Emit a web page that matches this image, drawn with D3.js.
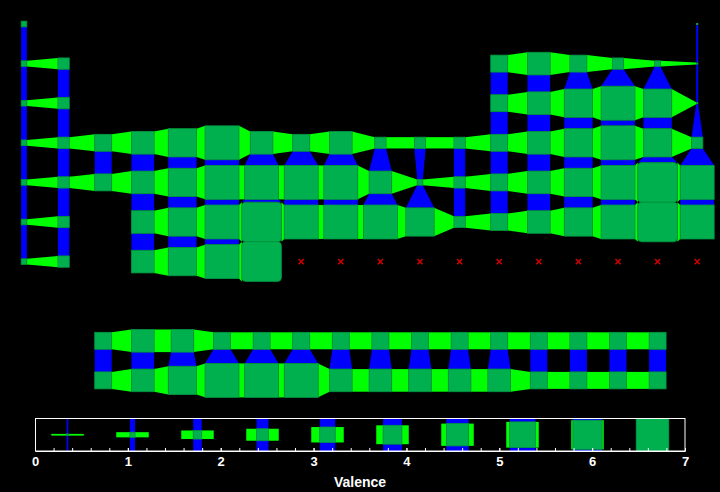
<!DOCTYPE html>
<html><head><meta charset="utf-8">
<script src="https://cdn.jsdelivr.net/npm/d3@7"></script>
<style>html,body{margin:0;padding:0;background:#000;} svg{display:block;}</style>
</head><body>
<svg id="chart" width="720" height="492"></svg>
<script>
const X = 'x';
const _ = null;
// Upper lattice: valence per cell (grid rows 0-6, columns 0-17); null = empty, 'x' = missing marker
const upperRows = [
  [1,_,_,_,_,_,_,_,_,_,_,_,_,_,_,_,_,0],
  [1,2,_,_,_,_,_,_,_,_,_,_,3,4,3,2,1,0],
  [1,2,_,_,_,_,_,_,_,_,_,_,3,4,5,6,5,0],
  [1,2,3,4,5,6,4,3,4,2,2,2,3,4,5,6,5,2],
  [1,2,3,4,5,6,6,6,6,4,1,2,3,4,5,6,7,6],
  [1,2,_,4,5,6,7,6,6,6,5,2,3,4,5,6,7,6],
  [1,2,_,4,5,6,7,X,X,X,X,X,X,X,X,X,X,X]
];
// Lower lattice (grid rows 8 and 9)
const lowerRowA = [_,_,3,4,4,3,3,3,3,3,3,3,3,3,3,3,3,_];
const lowerRowB = [_,_,3,4,5,6,6,6,4,4,4,4,4,3,3,3,3,_];
// Legend
const legendValences = [0.35,1.05,1.75,2.45,3.15,3.85,4.55,5.25,5.95,6.65];
const tickValues = [0,1,2,3,4,5,6,7];
const tickLabels = ['0','1','2','3','4','5','6','7'];
const axisTitle = 'Valence';

const COL_NODE = '#00b04f', COL_NODE_STROKE = '#00963f', COL_H = '#00ff00', COL_V = '#0000ff', COL_MISS = '#cc0000';

const svg = d3.select('#chart');
svg.append('rect').attr('width',720).attr('height',492).attr('fill','#000');

const grid = [];
upperRows.forEach((row, r) => { grid[r] = row; });
grid[7] = new Array(18).fill(null);
grid[8] = lowerRowA;
grid[9] = lowerRowB;

const x = d3.scaleLinear().domain([0,17]).range([24,697.2]);
const y = d3.scaleLinear().domain([0,9]).range([24,380.4]);
const sz = d3.scaleLinear().domain([0,7]).range([0,39.6]);
const size = v => Math.max(sz(v), 2);
const isNum = v => typeof v === 'number';

const cells = [], hEdges = [], vEdges = [], missing = [];
grid.forEach((row, r) => row.forEach((v, c) => {
  if (isNum(v)) {
    cells.push({r, c, v});
    if (c + 1 < row.length && isNum(row[c+1])) hEdges.push({r, c, a: v, b: row[c+1]});
    if (r + 1 < grid.length && isNum(grid[r+1][c])) vEdges.push({r, c, a: v, b: grid[r+1][c]});
  } else if (v === X) missing.push({r, c});
}));

const g = svg.append('g');
g.selectAll('polygon.h').data(hEdges).join('polygon').attr('class','h')
  .attr('fill', COL_H)
  .attr('points', d => {
    const s1 = size(d.a), s2 = size(d.b), cy = y(d.r);
    const x1 = x(d.c) + s1/2, x2 = x(d.c+1) - s2/2;
    return [[x1, cy - s1/2], [x2, cy - s2/2], [x2, cy + s2/2], [x1, cy + s1/2]].join(' ');
  });
g.selectAll('polygon.v').data(vEdges).join('polygon').attr('class','v')
  .attr('fill', COL_V)
  .attr('points', d => {
    const s1 = size(d.a), s2 = size(d.b), cx = x(d.c);
    const y1 = y(d.r) + s1/2, y2 = y(d.r+1) - s2/2;
    return [[cx - s1/2, y1], [cx + s1/2, y1], [cx + s2/2, y2], [cx - s2/2, y2]].join(' ');
  });
g.selectAll('rect.node').data(cells).join('rect').attr('class','node')
  .attr('x', d => x(d.c) - size(d.v)/2)
  .attr('y', d => y(d.r) - size(d.v)/2)
  .attr('width', d => size(d.v))
  .attr('height', d => size(d.v))
  .attr('rx', d => d.v >= 7 ? 4 : 0)
  .attr('fill', COL_NODE)
  .attr('stroke', COL_NODE_STROKE)
  .attr('stroke-width', d => d.v > 0 ? 0.8 : 0);
g.selectAll('path.miss').data(missing).join('path').attr('class','miss')
  .attr('d', d => { const cx = x(d.c), cy = y(d.r), k = 2.6;
    return `M${cx-k},${cy-k}L${cx+k},${cy+k}M${cx-k},${cy+k}L${cx+k},${cy-k}`; })
  .attr('stroke', COL_MISS).attr('stroke-width', 1.6).attr('fill','none');

// Legend
const lx = d3.scaleLinear().domain([0,7]).range([35,685]);
const ls = d3.scaleLinear().domain([0,7]).range([0,34.3]);
const boxTop = 418.5, boxBot = 451, midY = (boxTop + boxBot)/2;
const barW = lx(0.35) - lx(0);
const lg = svg.append('g');
lg.selectAll('rect.lh').data(legendValences).join('rect').attr('class','lh')
  .attr('x', v => lx(v) - barW/2).attr('width', barW)
  .attr('y', v => midY - ls(v)/2).attr('height', v => ls(v))
  .attr('fill', COL_H);
lg.selectAll('rect.lv').data(legendValences).join('rect').attr('class','lv')
  .attr('x', v => lx(v) - ls(v)/2).attr('width', v => ls(v))
  .attr('y', boxTop).attr('height', boxBot - boxTop)
  .attr('fill', COL_V);
lg.selectAll('rect.ln').data(legendValences).join('rect').attr('class','ln')
  .attr('x', v => lx(v) - ls(v)/2).attr('width', v => ls(v))
  .attr('y', v => midY - ls(v)/2).attr('height', v => ls(v))
  .attr('fill', COL_NODE).attr('stroke', COL_NODE_STROKE).attr('stroke-width', 0.8);
lg.append('rect').attr('x', 35.5).attr('y', boxTop).attr('width', 649.5).attr('height', boxBot - boxTop)
  .attr('fill','none').attr('stroke','#fff').attr('stroke-width',1);

const minor = svg.append('g').attr('transform', `translate(0,${boxBot})`)
  .call(d3.axisBottom(lx).ticks(35).tickSize(-3).tickSizeOuter(0).tickFormat(''));
minor.select('.domain').remove();
minor.selectAll('line').attr('stroke','#fff');

const ax = svg.append('g').attr('transform', `translate(0,${boxBot})`)
  .call(d3.axisBottom(lx).tickValues(tickValues).tickSize(-3).tickSizeOuter(0).tickPadding(6)
    .tickFormat((d,i) => tickLabels[i]));
ax.select('.domain').attr('stroke','#fff');
ax.selectAll('line').attr('stroke','#fff');
ax.selectAll('text').attr('fill','#fff')
  .style('font-family','"Liberation Sans", Arial, sans-serif').style('font-weight','bold').style('font-size','13px');

svg.append('text').attr('x', 360).attr('y', 486.5).attr('text-anchor','middle')
  .attr('fill','#fff').style('font-family','"Liberation Sans", Arial, sans-serif')
  .style('font-weight','bold').style('font-size','14px').text(axisTitle);
</script>
</body></html>
